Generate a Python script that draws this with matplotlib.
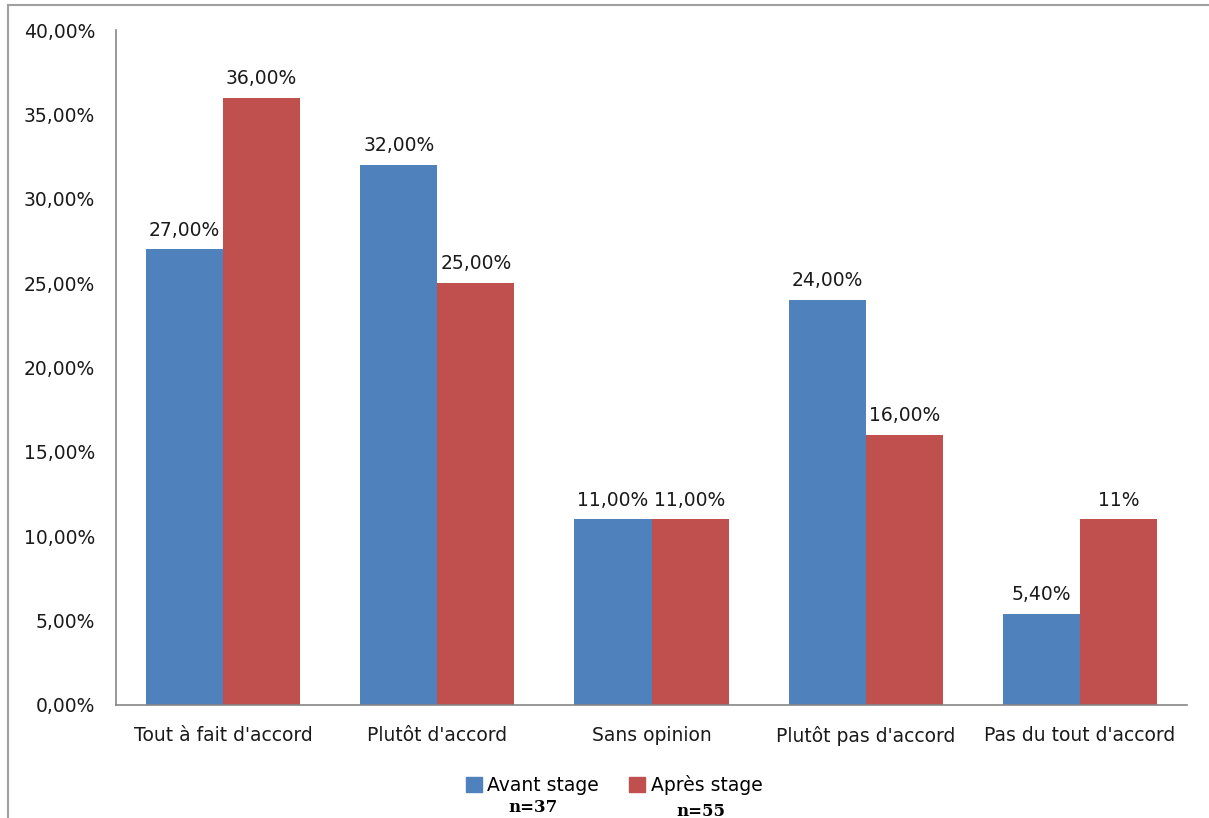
import matplotlib.pyplot as plt
import numpy as np
from matplotlib.lines import Line2D

# Data
categories = ["Tout à fait d'accord", "Plutôt d'accord", "Sans opinion",
              "Plutôt pas d'accord", "Pas du tout d'accord"]
avant = [27.0, 32.0, 11.0, 24.0, 5.4]
apres = [36.0, 25.0, 11.0, 16.0, 11.0]
avant_labels = ["27,00%", "32,00%", "11,00%", "24,00%", "5,40%"]
apres_labels = ["36,00%", "25,00%", "11,00%", "16,00%", "11%"]
yticks = [0, 5, 10, 15, 20, 25, 30, 35, 40]

blue = '#4F81BD'
red = '#C0504D'
axis_grey = '#868686'

plt.rcParams['font.family'] = ['DejaVu Sans']

fig = plt.figure(figsize=(12.09, 8.18), dpi=100)
ax = fig.add_axes([116 / 1209, 1 - 705 / 818, (1187 - 116) / 1209, (705 - 30) / 818])

x = np.arange(len(categories))
w = 0.36
b1 = ax.bar(x - w / 2, avant, w, color=blue)
b2 = ax.bar(x + w / 2, apres, w, color=red)

# Data labels above each bar
for bars, labels in ((b1, avant_labels), (b2, apres_labels)):
    for bar, lab in zip(bars, labels):
        ax.annotate(lab, (bar.get_x() + bar.get_width() / 2, bar.get_height()),
                    xytext=(0, 7), textcoords='offset points', ha='center', va='bottom',
                    fontsize=13.5, color='#1a1a1a')

ax.set_xlim(-0.5, len(categories) - 0.5)
ax.set_ylim(0, 40)
ax.set_yticks(yticks)
ax.set_yticklabels([f"{t:.2f}".replace('.', ',') + '%' for t in yticks])
ax.set_xticks(x)
ax.set_xticklabels(categories)
ax.tick_params(axis='both', length=0, labelsize=13.5, colors='#1a1a1a')
ax.tick_params(axis='y', pad=15)
ax.tick_params(axis='x', pad=15)

for s in ('top', 'right'):
    ax.spines[s].set_visible(False)
for s in ('left', 'bottom'):
    ax.spines[s].set_color(axis_grey)
    ax.spines[s].set_linewidth(1.2)

# Legend
handles = [plt.Rectangle((0, 0), 1, 1, color=blue), plt.Rectangle((0, 0), 1, 1, color=red)]
fig.legend(handles, ['Avant stage', 'Après stage'], loc='center',
           bbox_to_anchor=(614 / 1209, 1 - 785 / 818), ncol=2, frameon=False,
           fontsize=13.5, handlelength=0.85, handleheight=0.85, handletextpad=0.3,
           columnspacing=1.6)
fig.text(533 / 1209, 1 - 808 / 818, 'n=37', family='DejaVu Serif', weight='bold',
         fontsize=12, ha='center', va='center')
fig.text(701 / 1209, 1 - 811 / 818, 'n=55', family='DejaVu Serif', weight='bold',
         fontsize=12, ha='center', va='center')

# Outer frame (top and left edges visible)
fig.add_artist(Line2D([8 / 1209, 8 / 1209], [0, 1 - 5 / 818], transform=fig.transFigure,
                      color='#a0a0a0', lw=1.5))
fig.add_artist(Line2D([8 / 1209, 1], [1 - 5 / 818, 1 - 5 / 818], transform=fig.transFigure,
                      color='#a0a0a0', lw=1.5))

fig.savefig('out.png', dpi=100)
